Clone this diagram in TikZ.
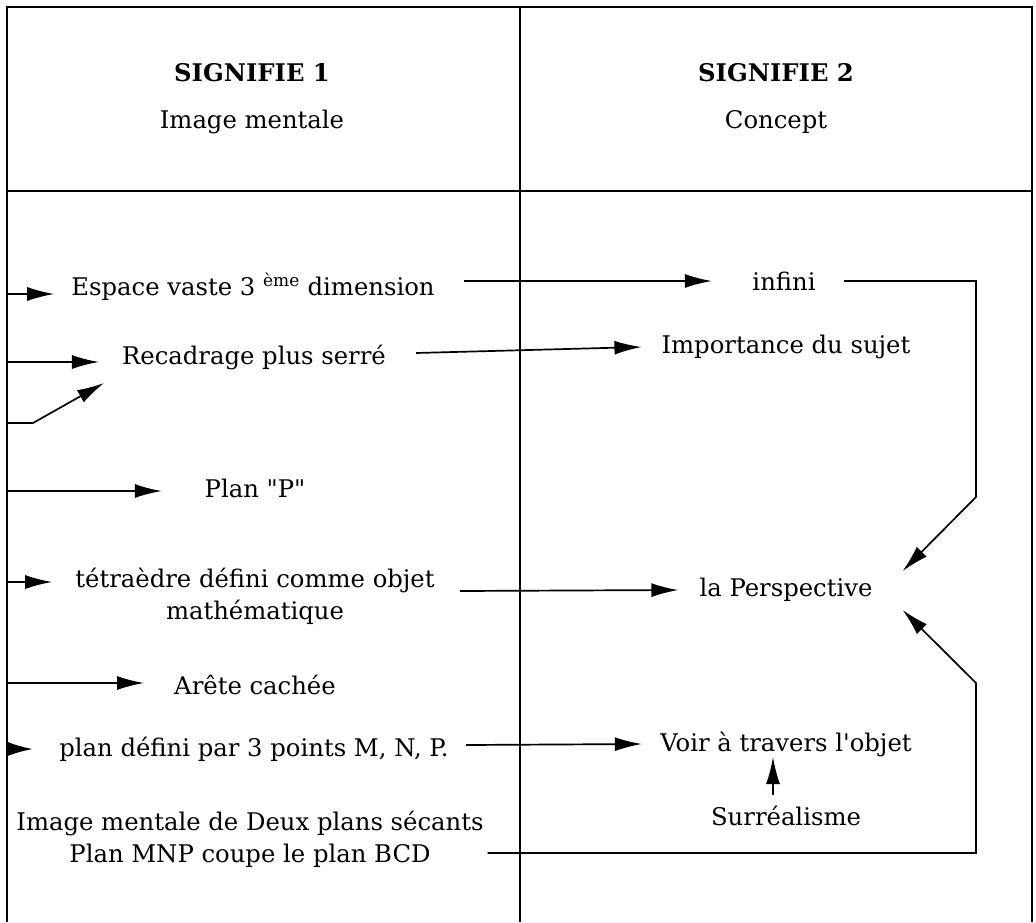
\documentclass[tikz,border=0pt]{standalone}
\usepackage{fontspec}
\setmainfont{DejaVu Serif}
\usetikzlibrary{arrows.meta}
\begin{document}
\begin{tikzpicture}[x=1pt,y=-1pt,
  txt/.style={inner sep=0pt, font=\fontsize{24.3}{32}\selectfont, align=center},
  hd/.style={txt, font=\fontsize{24.3}{32}\selectfont\bfseries},
  arr/.style={-{Latex[length=27pt,width=14pt]}, line width=1.7pt},
  frame/.style={line width=2pt}]
\useasboundingbox (0,0) rectangle (1036,922);
% table frame
\draw[frame] (7,922) -- (7,7) -- (1032,7) -- (1032,922);
\draw[frame] (520,7) -- (520,922);
\draw[frame] (7,191) -- (1032,191);
% header
\node[hd]  (h1)  at (252,73)  {SIGNIFIE 1};
\node[txt] (h1s) at (252,122) {Image mentale};
\node[hd]  (h2)  at (776,73)  {SIGNIFIE 2};
\node[txt] (h2s) at (776,122) {Concept};
% left column
\node[txt, minimum width=362pt] (esp)   at (253,287) {Espace vaste 3 \textsuperscript{ème} dimension};
\node[txt, minimum width=262pt] (rec)   at (254,357) {Recadrage plus serré};
\node[txt, minimum width=104pt] (plan)  at (255,488) {Plan \textquotedbl P\textquotedbl};
\node[txt, minimum width=354pt] (tet)   at (255,596) {tétraèdre défini comme objet\\mathématique};
\node[txt, minimum width=156pt] (arete) at (255,685) {Arête cachée};
\node[txt, minimum width=396pt] (pdef)  at (254,749) {plan défini par 3 points M, N, P.};
\node[txt, font=\fontsize{24.3}{32}\selectfont, minimum width=455pt] (deux) at (250,839) {Image mentale de Deux plans sécants\\Plan MNP coupe le plan BCD};
% right column
\node[txt, minimum width=66pt]  (inf)   at (784,281) {infini};
\node[txt, minimum width=247pt] (imp)   at (786,347) {Importance du sujet};
\node[txt, minimum width=172pt] (persp) at (786,590) {la Perspective};
\node[txt, minimum width=252pt] (voir)  at (786,744) {Voir à travers l\textquotesingle objet};
\node[txt, minimum width=152pt] (surr)  at (786,816) {Surréalisme};
% free ends on the frame
\coordinate (L1) at (7,294);
\coordinate (L2) at (7,362);
\coordinate (L3) at (7,423);
\coordinate (B3) at (33,423);
\coordinate (L4) at (7,491);
\coordinate (L5) at (7,582);
\coordinate (L6) at (7,683);
\coordinate (L7) at (7,749);
\coordinate (R1) at (976,281);
\coordinate (R2) at (976,497);
\coordinate (R3) at (976,853);
\coordinate (R4) at (976,683);
% connectors
\draw[arr] (L1) -- ([xshift=-17pt,yshift=-7pt]esp.west);
\draw[arr] (L2) -- ([xshift=-23pt,yshift=-5pt]rec.west);
\draw[arr] (L3) -- (B3) -- ([xshift=-18pt,yshift=-26pt]rec.west);
\draw[arr] (L4) -- ([xshift=-41pt,yshift=-3pt]plan.west);
\draw[arr] (L5) -- ([xshift=-23pt,yshift=14pt]tet.west);
\draw[arr] (L6) -- ([xshift=-30pt,yshift=2pt]arete.west);
\draw[line width=1.7pt, -{Latex[length=25pt,width=14pt]}] (L7) -- ([xshift=-23pt]pdef.west);
\draw[arr] ([xshift=29pt,yshift=6pt]esp.east) -- ([xshift=-39pt]inf.west);
\draw[arr] ([xshift=27pt]inf.east) -- (R1) -- (R2) -- ([xshift=30pt,yshift=19pt]persp.east);
\draw[arr] ([xshift=30pt,yshift=4pt]rec.east) -- ([xshift=-20pt]imp.west);
\draw[arr] ([xshift=25pt,yshift=5pt]tet.east) -- ([xshift=-21pt]persp.west);
\draw[arr] ([xshift=14pt,yshift=4pt]pdef.east) -- ([xshift=-18pt]voir.west);
\draw[arr] ([xshift=-13pt,yshift=21pt]surr.center) -- ([xshift=-13pt,yshift=-13pt]voir.center);
\draw[arr] ([xshift=4pt,yshift=-14pt]deux.east) -- (R3) -- (R4) -- ([xshift=30pt,yshift=-20pt]persp.east);
\end{tikzpicture}
\end{document}
